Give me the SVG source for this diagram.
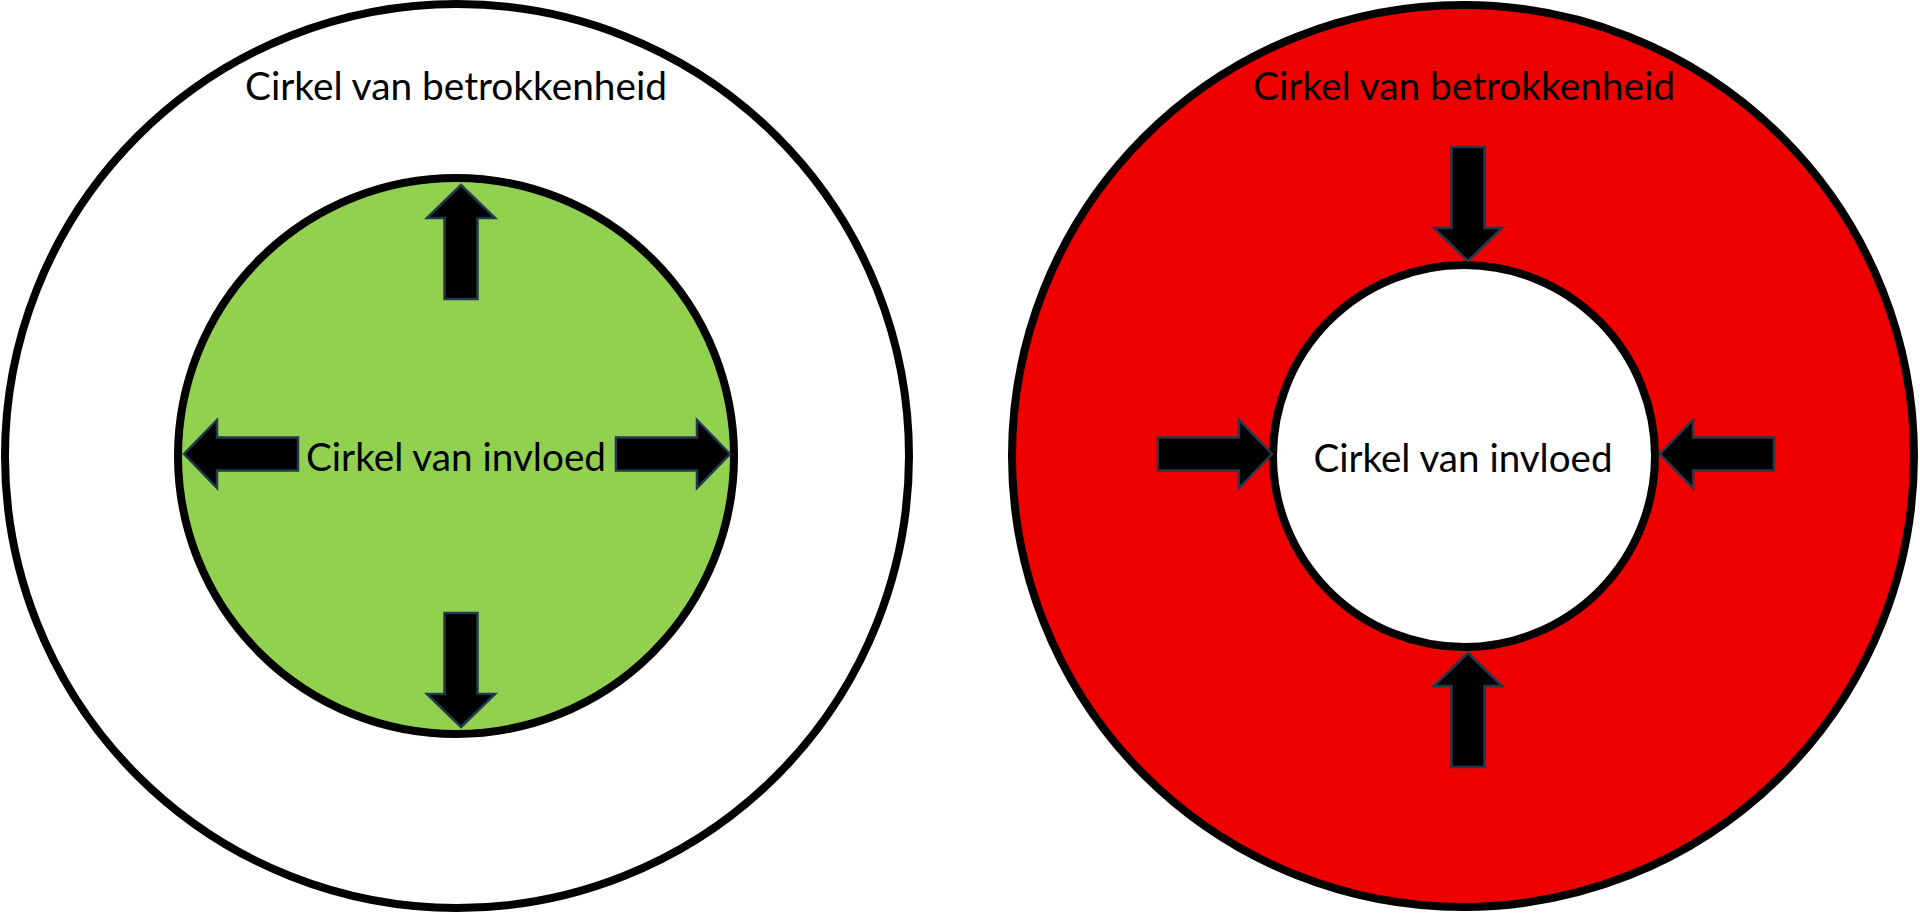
<svg xmlns="http://www.w3.org/2000/svg" xmlns:xlink="http://www.w3.org/1999/xlink" width="1920" height="913" viewBox="0 0 1920 913">
  <style>
    .ring { stroke: #000000; stroke-width: 8; }
    .lbl { font-family: Lato, "Open Sans", "Liberation Sans", sans-serif; font-size: 38px; fill: #000000; text-anchor: middle; }
    .arr { fill: #000000; stroke: #22384F; stroke-width: 2.5; stroke-linejoin: miter; }
  </style>
  <defs>
    <polygon id="blockArrow" class="arr" points="0,0 -33,-34 -33,-16.5 -114,-16.5 -114,16.5 -33,16.5 -33,34"/>
  </defs>
  <rect width="1920" height="913" fill="#ffffff"/>

  <g id="left-betrokkenheid">
    <circle class="ring" cx="457" cy="456" r="452" fill="#ffffff"/>
    <text class="lbl" x="456" y="100" textLength="422" lengthAdjust="spacingAndGlyphs">Cirkel van betrokkenheid</text>
  </g>
  <g id="left-invloed">
    <circle class="ring" cx="456" cy="456" r="278" fill="#92D050"/>
    <text class="lbl" x="456" y="471" textLength="300" lengthAdjust="spacingAndGlyphs">Cirkel van invloed</text>
  </g>

  <g id="right-betrokkenheid">
    <circle class="ring" cx="1463" cy="456" r="451" fill="#EE0000"/>
    <text class="lbl" x="1464" y="100" textLength="422" lengthAdjust="spacingAndGlyphs">Cirkel van betrokkenheid</text>
  </g>
  <g id="right-invloed">
    <circle class="ring" cx="1464" cy="456" r="191" fill="#ffffff"/>
    <text class="lbl" x="1463" y="472" textLength="299" lengthAdjust="spacingAndGlyphs">Cirkel van invloed</text>
  </g>

  <g id="connectors">
    <use xlink:href="#blockArrow" transform="translate(461,185) rotate(-90)"/>
    <use xlink:href="#blockArrow" transform="translate(461,727) rotate(90)"/>
    <use xlink:href="#blockArrow" transform="translate(184,454) rotate(180)"/>
    <use xlink:href="#blockArrow" transform="translate(730,454)"/>

    <use xlink:href="#blockArrow" transform="translate(1468,261) rotate(90)"/>
    <use xlink:href="#blockArrow" transform="translate(1468,653) rotate(-90)"/>
    <use xlink:href="#blockArrow" transform="translate(1272,454)"/>
    <use xlink:href="#blockArrow" transform="translate(1660,454) rotate(180)"/>
  </g>
</svg>
